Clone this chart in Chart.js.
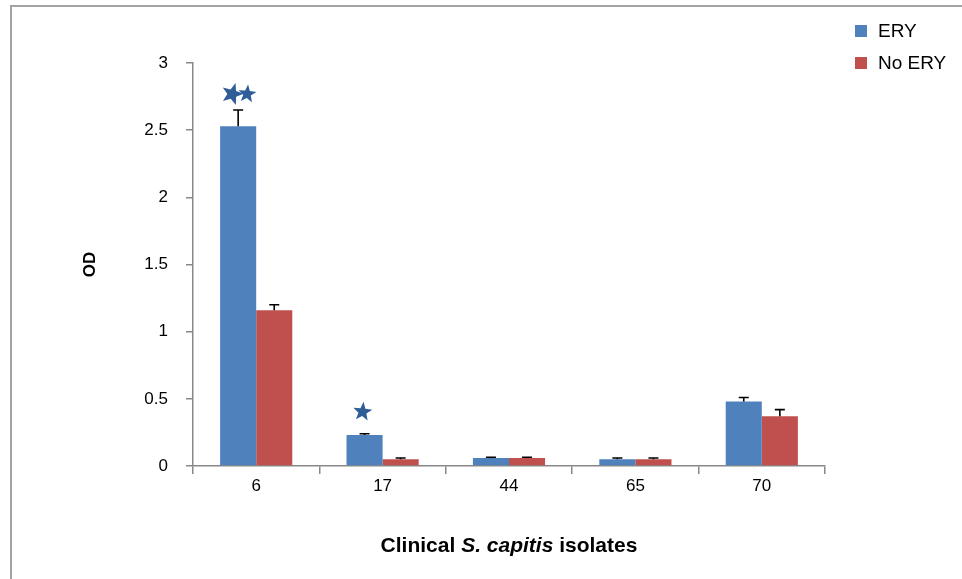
<!DOCTYPE html>
<html>
<head>
<meta charset="utf-8">
<script src="https://cdn.jsdelivr.net/npm/chart.js@4"></script>
<style>
  body { margin: 0; background: #fff; }
  #wrap { position: relative; width: 962px; height: 579px; }
  #frame { position: absolute; left: 10px; top: 5px; width: 960px; height: 580px;
           border-left: 2px solid #a3a3a3; border-top: 2px solid #a3a3a3; pointer-events: none; }
  canvas { position: absolute; left: 0; top: 0; }
</style>
</head>
<body>
<div id="wrap">
  <canvas id="chart" width="962" height="579"></canvas>
  <div id="frame"></div>
</div>
<script>
// isolates on the x axis
var isolates = ['6', '17', '44', '65', '70'];
// OD values
var eryOD = [2.53, 0.23, 0.06, 0.05, 0.48];
var noEryOD = [1.16, 0.05, 0.06, 0.05, 0.37];
// error bars (upper half only is visible)
var eryErr = [0.12, 0.01, 0.005, 0.01, 0.03];
var noEryErr = [0.04, 0.01, 0.005, 0.01, 0.05];
var yTicks = [0, 0.5, 1, 1.5, 2, 2.5, 3];
// significance stars on the ERY bars
var starIsolates = ['6', '17'];
var starCounts = [2, 1];

var fontFam = "'Liberation Sans', 'DejaVu Sans', sans-serif";

function drawStar(ctx, cx, cy, r, rot) {
    ctx.beginPath();
    for (var i = 0; i < 10; i++) {
        var rr = i % 2 === 0 ? r : r * 0.42;
        var a = rot - Math.PI / 2 + i * Math.PI / 5;
        var px = cx + rr * Math.cos(a), py = cy + rr * Math.sin(a);
        if (i === 0) ctx.moveTo(px, py); else ctx.lineTo(px, py);
    }
    ctx.closePath();
    ctx.fill();
}

var extrasPlugin = {
    id: 'extras',
    afterDatasetsDraw: function(chart) {
        var ctx = chart.ctx;
        var y = chart.scales.y;
        var errs = [eryErr, noEryErr];
        ctx.save();
        // error bars
        ctx.strokeStyle = '#000';
        ctx.lineWidth = 1.6;
        chart.data.datasets.forEach(function(ds, di) {
            var meta = chart.getDatasetMeta(di);
            meta.data.forEach(function(bar, i) {
                var top = y.getPixelForValue(ds.data[i] + errs[di][i]);
                ctx.beginPath();
                ctx.moveTo(bar.x, bar.y);
                ctx.lineTo(bar.x, top);
                ctx.moveTo(bar.x - 5, top);
                ctx.lineTo(bar.x + 5, top);
                ctx.stroke();
            });
        });
        // stars
        ctx.fillStyle = '#2f5d98';
        var meta0 = chart.getDatasetMeta(0);
        starIsolates.forEach(function(iso, k) {
            var i = isolates.indexOf(iso);
            var bar = meta0.data[i];
            var top = y.getPixelForValue(eryOD[i] + eryErr[i]);
            if (starCounts[k] === 2) {
                drawStar(ctx, bar.x - 6, top - 16, 11.5, 0.3);
                drawStar(ctx, bar.x + 9, top - 16, 9.5, 0.1);
            } else {
                drawStar(ctx, bar.x - 2, top - 22, 10, 0.1);
            }
        });
        ctx.restore();
    },
    afterDraw: function(chart) {
        var ctx = chart.ctx;
        var xs = chart.scales.x;
        ctx.save();
        ctx.fillStyle = '#000';
        ctx.textBaseline = 'middle';
        // x axis title with italic species name
        var parts = [['Clinical ', 'bold'], ['S. capitis', 'italic bold'], [' isolates', 'bold']];
        var total = 0;
        parts.forEach(function(p) {
            ctx.font = p[1] + ' 21px ' + fontFam;
            total += ctx.measureText(p[0]).width;
        });
        var cx = (xs.left + xs.right) / 2;
        var x = cx - total / 2;
        parts.forEach(function(p) {
            ctx.font = p[1] + ' 21px ' + fontFam;
            ctx.fillText(p[0], x, 546);
            x += ctx.measureText(p[0]).width;
        });
        // legend in the top right corner
        ctx.font = '19px ' + fontFam;
        chart.data.datasets.forEach(function(ds, di) {
            var ly = 31 + di * 32;
            ctx.fillStyle = ds.backgroundColor;
            ctx.fillRect(855, ly - 6, 12, 12);
            ctx.fillStyle = '#000';
            ctx.fillText(ds.label, 878, ly + 1);
        });
        ctx.restore();
    }
};

new Chart(document.getElementById('chart'), {
    type: 'bar',
    data: {
        labels: isolates,
        datasets: [
            { label: 'ERY', data: eryOD, backgroundColor: '#4f81bd' },
            { label: 'No ERY', data: noEryOD, backgroundColor: '#c0504d' }
        ]
    },
    options: {
        responsive: false,
        animation: false,
        layout: { padding: { left: 80, top: 63, right: 137, bottom: 30 } },
        datasets: { bar: { categoryPercentage: 0.571, barPercentage: 1 } },
        plugins: {
            legend: { display: false },
            tooltip: { enabled: false }
        },
        scales: {
            x: {
                grid: { display: true, drawOnChartArea: false, offset: true, tickLength: 8, color: '#888', lineWidth: 1.5 },
                border: { color: '#888', width: 1.5 },
                ticks: { color: '#000', font: { size: 17, family: fontFam }, padding: 2 },
                afterFit: function(s) { s.height = 83; }
            },
            y: {
                min: 0, max: 3,
                afterBuildTicks: function(s) { s.ticks = yTicks.map(function(v) { return { value: v }; }); },
                grid: { display: true, drawOnChartArea: false, tickLength: 7, color: '#888', lineWidth: 1.5 },
                border: { color: '#888', width: 1.5 },
                ticks: {
                    color: '#000', font: { size: 17, family: fontFam }, padding: 18,
                    callback: function(v) { return String(v); }
                },
                title: { display: true, text: 'OD', color: '#000', font: { size: 17, weight: 'bold', family: fontFam }, padding: 0 },
                afterFit: function(s) { s.width = 113; }
            }
        }
    },
    plugins: [extrasPlugin]
});
</script>
</body>
</html>
